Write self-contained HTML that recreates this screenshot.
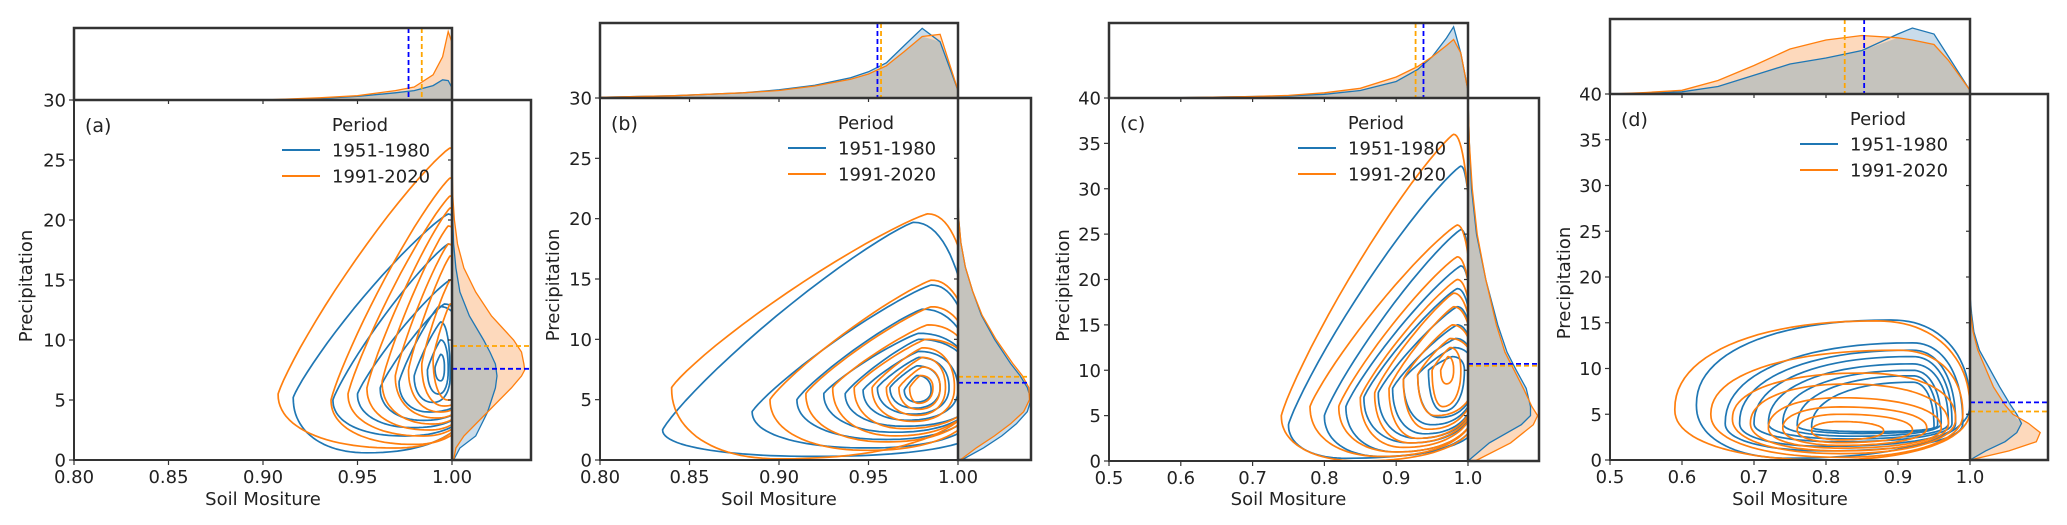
<!DOCTYPE html>
<html><head><meta charset="utf-8"><title>Joint KDE plots</title>
<style>
html,body{margin:0;padding:0;background:#fff;}
svg{display:block;font-family:"DejaVu Sans","Liberation Sans",sans-serif;}
</style></head>
<body>
<svg id="fig" width="2067" height="525" viewBox="0 0 2067 525" xmlns="http://www.w3.org/2000/svg"></svg>
<script>
// ---------- DATA ----------
const seriesNames = ["1951-1980","1991-2020"];
const panelLabels = ["(a)","(b)","(c)","(d)"];
const xTicksAB = [0.80,0.85,0.90,0.95,1.00];
const xTickLabelsAB = ["0.80","0.85","0.90","0.95","1.00"];
const xTicksCD = [0.5,0.6,0.7,0.8,0.9,1.0];
const xTickLabelsCD = ["0.5","0.6","0.7","0.8","0.9","1.0"];
const yTicksAB = [0,5,10,15,20,25,30];
const yTicksCD = [0,5,10,15,20,25,30,35,40];

// contour levels: [xl, xr, yb, yt, ym, xt, xb]
const contBlueA = [[.916,1.01,.6,20.5,5.2,.998,.955],[.937,1.01,2,18,5,.998,.975],[.95,1.01,2.7,15,5.5,.999,.98],[.962,1.01,3.3,13,6,.996,.985],[.972,1.01,4,12.8,6.5,.993,.988],[.98,.999,4.8,11.5,7,.994,.99],[.987,.998,5.5,10,7.5,.994,.993],[.991,.996,6.6,8.8,7.7,.994,.994]];
const contOrangeA = [[.908,1.01,1,26,5.5,.999,.97],[.936,1.01,1.3,23.5,5,.999,.98],[.945,1.01,2,22,5.5,.999,.985],[.955,1.01,2.5,21,6,.999,.988],[.963,1.01,3,19.5,6.5,.998,.99],[.97,1.01,3.5,18,7,.998,.992],[.977,1.01,4,17,7.5,.999,.994],[.984,1.01,4.5,15,8,.999,.996],[.99,1.01,5,13,8.5,.999,.998]];
const contBlueB = [[.835,1.01,.3,19.7,2.5,.975,.92],[.885,1.01,1,14.5,4,.985,.95],[.91,1.01,1.7,12.5,5,.98,.96],[.925,1.01,2.3,10.5,5.5,.978,.965],[.937,1.01,2.8,10,5.5,.978,.97],[.947,1.0,3.3,9,5.8,.978,.972],[.955,.995,3.8,8.5,6,.978,.975],[.962,.99,4.3,7.8,6,.977,.976],[.97,.985,4.8,7,5.8,.977,.977]];
const contOrangeB = [[.84,1.01,.1,20.4,6,.983,.9],[.895,1.01,.8,14.9,5,.985,.95],[.915,1.01,1.5,12.7,5.5,.985,.96],[.93,1.01,2,11.2,6,.983,.965],[.942,1.01,2.6,10,6,.982,.97],[.952,.998,3.2,9.3,6,.98,.975],[.96,.993,3.7,8.5,6,.98,.977],[.967,.99,4.2,7.7,6,.98,.978],[.973,.986,4.7,7,6,.979,.978]];
const contBlueC = [[.75,1.01,.3,32.5,4,.99,.83],[.80,1.01,.5,25.5,5,.99,.88],[.83,1.01,1,21.5,6,.99,.9],[.855,1.01,2,19,7,.985,.92],[.875,1.01,2.5,17,7.5,.985,.93],[.895,1.01,3,15,8,.985,.94],[.91,1.01,4,13.5,9,.983,.95],[.93,1.01,4.8,12.5,9.5,.98,.96],[.945,.995,5.5,11.5,10,.978,.965]];
const contOrangeC = [[.74,1.01,0,36,5,.98,.85],[.78,1.01,.5,26,6,.985,.88],[.82,1.01,1,22.5,6,.985,.9],[.85,1.01,1.5,20,7,.985,.91],[.87,1.01,2,18.5,7.5,.98,.92],[.89,1.01,2.5,17,8,.98,.93],[.91,1.01,3.5,15,9,.978,.945],[.93,1.01,5,13.5,9.5,.975,.955],[.95,.99,6,12.5,10,.975,.965],[.962,.98,8.5,11.5,10,.972,.97]];
const contBlueD = [[.62,1.0,.2,15.3,6,.89,.75],[.66,.99,1,12.8,4,.92,.8],[.68,.98,1.5,12,4,.92,.8],[.70,.975,2,11.3,4,.92,.82],[.72,.97,2.3,10.5,4,.92,.83],[.74,.96,2.6,9.8,4,.92,.84],[.76,.955,2.9,9.2,3.8,.92,.85],[.78,.95,3.1,8.5,3.6,.92,.86]];
const contOrangeD = [[.59,1.0,0,15.2,5.5,.87,.8],[.64,.99,.3,12,5,.9,.82],[.67,.98,.7,9.5,4.5,.85,.82],[.695,.97,1,8.3,4,.83,.82],[.72,.96,1.3,6.8,3.5,.82,.82],[.74,.94,1.6,5.8,3.5,.82,.82],[.76,.92,1.9,5,3.3,.82,.82],[.78,.88,2.2,4.2,3.2,.82,.82]];

// top marginal densities (fraction of marginal height)
const topGridA = [.80,.90,.93,.95,.97,.98,.99,.995,.998,1.0];
const topBlueA = [0,0,.02,.05,.1,.13,.2,.28,.27,.17];
const topOrangeA = [0,0,.03,.06,.13,.18,.35,.6,.95,.8];
const topGridB = [.80,.84,.88,.90,.92,.94,.95,.96,.97,.98,.99,1.0];
const topBlueB = [.01,.03,.07,.11,.17,.27,.35,.47,.70,.93,.75,.1];
const topOrangeB = [.01,.03,.07,.10,.16,.25,.32,.43,.62,.82,.85,.1];
const topGridC = [.5,.6,.7,.75,.8,.85,.9,.93,.95,.97,.98,.99,1.0];
const topBlueC = [0,.005,.02,.03,.05,.1,.22,.38,.55,.8,.95,.6,.1];
const topOrangeC = [0,.005,.02,.035,.07,.13,.28,.42,.55,.7,.78,.6,.1];
const topGridD = [.5,.55,.6,.65,.7,.75,.8,.85,.9,.92,.95,.97,1.0];
const topBlueD = [0,.01,.03,.1,.25,.4,.48,.58,.8,.88,.8,.5,.05];
const topOrangeD = [0,.02,.05,.18,.38,.6,.72,.78,.75,.72,.66,.45,.05];

// right marginal densities (fraction of marginal width)
const rightGridA = [0,1,2,4,6,7,7.5,8,9,10,12,14,16,18,20,22,25];
const rightBlueA = [.02,.1,.3,.45,.55,.57,.56,.55,.48,.4,.22,.1,.05,.02,.01,0,0];
const rightOrangeA = [.02,.05,.15,.45,.75,.88,.92,.91,.88,.78,.5,.3,.15,.07,.03,.01,0];
const rightGridB = [0,1,2,3,4,5,6,7,8,10,12,14,16,18,20,22];
const rightBlueB = [.05,.35,.6,.8,.95,1.0,.95,.85,.72,.5,.32,.2,.1,.04,.01,0];
const rightOrangeB = [.03,.25,.5,.72,.9,.98,.97,.88,.75,.52,.33,.2,.1,.04,.01,0];
const rightGridC = [0,2,4,5,6,8,10,12,15,20,25,30,35,40];
const rightBlueC = [0,.3,.75,.88,.88,.82,.68,.55,.42,.25,.12,.05,.02,0];
const rightOrangeC = [.1,.6,.92,.98,.9,.78,.65,.52,.4,.25,.13,.06,.02,0];
const rightGridD = [0,1,2,3,4,5,6,8,10,12,14,16,18];
const rightBlueD = [0,.2,.45,.6,.66,.6,.52,.38,.25,.12,.05,.02,0];
const rightOrangeD = [0,.5,.85,.9,.75,.55,.45,.3,.2,.1,.04,.01,0];

// means
const meanXBlue = [.977,.955,.938,.853];
const meanXOrange = [.984,.957,.927,.826];
const meanYBlue = [7.6,6.4,10.7,6.3];
const meanYOrange = [9.5,6.9,10.5,5.3];

// ---------- LAYOUT ----------
const layout = [
  {L:74,R:452,T:100,B:460,tT:28,rR:531,xd:[.8,1],yd:[0,30],xt:xTicksAB,xl:xTickLabelsAB,yt:yTicksAB,ylx:26,nUL:1.15},
  {L:600,R:958,T:98,B:460,tT:23,rR:1031,xd:[.8,1],yd:[0,30],xt:xTicksAB,xl:xTickLabelsAB,yt:yTicksAB,ylx:553,nUL:1.15},
  {L:1109,R:1468,T:98,B:461,tT:23,rR:1539,xd:[.5,1],yd:[0,40],xt:xTicksCD,xl:xTickLabelsCD,yt:yTicksCD,ylx:1063,nUL:1.15},
  {L:1610,R:1970,T:94,B:460,tT:19,rR:2048,xd:[.5,1],yd:[0,40],xt:xTicksCD,xl:xTickLabelsCD,yt:yTicksCD,ylx:1564,nUL:2.2}
];
const contB = [contBlueA,contBlueB,contBlueC,contBlueD];
const contO = [contOrangeA,contOrangeB,contOrangeC,contOrangeD];
const tG = [topGridA,topGridB,topGridC,topGridD];
const tB = [topBlueA,topBlueB,topBlueC,topBlueD];
const tO = [topOrangeA,topOrangeB,topOrangeC,topOrangeD];
const rG = [rightGridA,rightGridB,rightGridC,rightGridD];
const rB = [rightBlueA,rightBlueB,rightBlueC,rightBlueD];
const rO = [rightOrangeA,rightOrangeB,rightOrangeC,rightOrangeD];

const BLUE="#1f77b4", ORANGE="#ff7f0e";
const NS="http://www.w3.org/2000/svg";
const svg=document.getElementById('fig');
function mk(tag,attrs,parent){const e=document.createElementNS(NS,tag);for(const k in attrs)e.setAttribute(k,attrs[k]);(parent||svg).appendChild(e);return e;}
function txt(s,attrs,parent){const e=mk('text',attrs,parent);e.textContent=s;return e;}

function shapePts(lv,sx,sy,nUL){
  const [xl,xr,yb,yt,ym,xt,xb]=lv;const n=2.2;const pts=[];const N=24;
  const pw=(v,nn)=>Math.pow(Math.abs(v),2/nn);
  for(let i=0;i<=N;i++){const t=i/N*Math.PI/2;pts.push([xt+(xr-xt)*pw(Math.cos(t),n),ym+(yt-ym)*pw(Math.sin(t),n)]);}
  for(let i=1;i<=N;i++){const t=i/N*Math.PI/2;pts.push([xt-(xt-xl)*pw(Math.sin(t),nUL),ym+(yt-ym)*pw(Math.cos(t),nUL)]);}
  for(let i=1;i<=N;i++){const t=i/N*Math.PI/2;pts.push([xb-(xb-xl)*pw(Math.cos(t),n),ym-(ym-yb)*pw(Math.sin(t),n)]);}
  for(let i=1;i<N;i++){const t=i/N*Math.PI/2;pts.push([xb+(xr-xb)*pw(Math.sin(t),n),ym-(ym-yb)*pw(Math.cos(t),n)]);}
  return pts.map(p=>sx(p[0]).toFixed(1)+','+sy(p[1]).toFixed(1)).join(' ');
}

layout.forEach((P,pi)=>{
  const g=mk('g',{});
  
  
  const sx=v=>P.L+(v-P.xd[0])/(P.xd[1]-P.xd[0])*(P.R-P.L);
  const sy=v=>P.B-(v-P.yd[0])/(P.yd[1]-P.yd[0])*(P.B-P.T);
  const defs=mk('defs',{},g);
  const cp=mk('clipPath',{id:'clip'+pi},defs);
  mk('rect',{x:P.L,y:P.T,width:P.R-P.L,height:P.B-P.T},cp);

  const cg=mk('g',{'clip-path':'url(#clip'+pi+')'},g);
  
  
  [[contB[pi],BLUE,'blue'],[contO[pi],ORANGE,'orange']].forEach(([levels,col,nm])=>{
    levels.forEach((lv,li)=>{
      const pl=mk('polygon',{points:shapePts(lv,sx,sy,P.nUL),fill:'none',stroke:col,'stroke-width':1.7,'stroke-linejoin':'round'},cg);
      
      
    });
  });

  const H=P.T-P.tT;
  const grid=tG[pi], bv=tB[pi], ov=tO[pi];
  const ty=d=>P.T-d*H;
  const area=(vals)=>{let s='M'+sx(grid[0])+','+P.T;grid.forEach((x,i)=>{s+=' L'+sx(x).toFixed(1)+','+ty(vals[i]).toFixed(1);});return s+' L'+sx(grid[grid.length-1])+','+P.T+' Z';};
  const line=(vals)=>grid.map((x,i)=>(i?'L':'M')+sx(x).toFixed(1)+','+ty(vals[i]).toFixed(1)).join(' ');
  const mins=bv.map((v,i)=>Math.min(v,ov[i]));
  const tf1=mk('path',{d:area(bv),fill:'#c9dceb'},g);
  
  
  const tf2=mk('path',{d:area(ov),fill:'#fdd9bc'},g);
  
  
  const tf3=mk('path',{d:area(mins),fill:'#c5c3bd'},g);
  
  
  const tl1=mk('path',{d:line(bv),fill:'none',stroke:BLUE,'stroke-width':1.3},g);
  
  
  const tl2=mk('path',{d:line(ov),fill:'none',stroke:ORANGE,'stroke-width':1.3},g);
  
  
  const mv1=mk('line',{x1:sx(meanXOrange[pi]),x2:sx(meanXOrange[pi]),y1:P.tT,y2:P.T,stroke:'#ffa500','stroke-width':1.8,'stroke-dasharray':'5,3'},g);
  
  
  const mv2=mk('line',{x1:sx(meanXBlue[pi]),x2:sx(meanXBlue[pi]),y1:P.tT,y2:P.T,stroke:'#0000ff','stroke-width':1.8,'stroke-dasharray':'5,3'},g);
  
  
  const tbox=mk('rect',{x:P.L,y:P.tT,width:P.R-P.L,height:H,fill:'none',stroke:'#333','stroke-width':2.5},g);
  
  

  const W=P.rR-P.R;
  const rg=rG[pi], rbv=rB[pi], rov=rO[pi];
  const rx=d=>P.R+d*W;
  const rarea=(vals)=>{let s='M'+P.R+','+sy(rg[0]);rg.forEach((y,i)=>{s+=' L'+rx(vals[i]).toFixed(1)+','+sy(y).toFixed(1);});return s+' L'+P.R+','+sy(rg[rg.length-1]).toFixed(1)+' Z';};
  const rline=(vals)=>rg.map((y,i)=>(i?'L':'M')+rx(vals[i]).toFixed(1)+','+sy(y).toFixed(1)).join(' ');
  const rmins=rbv.map((v,i)=>Math.min(v,rov[i]));
  const rf1=mk('path',{d:rarea(rbv),fill:'#c9dceb'},g);
  
  
  const rf2=mk('path',{d:rarea(rov),fill:'#fdd9bc'},g);
  
  
  const rf3=mk('path',{d:rarea(rmins),fill:'#c5c3bd'},g);
  
  
  const rl1=mk('path',{d:rline(rbv),fill:'none',stroke:BLUE,'stroke-width':1.3},g);
  
  
  const rl2=mk('path',{d:rline(rov),fill:'none',stroke:ORANGE,'stroke-width':1.3},g);
  
  
  const mh1=mk('line',{x1:P.R,x2:P.rR,y1:sy(meanYOrange[pi]),y2:sy(meanYOrange[pi]),stroke:'#ffa500','stroke-width':1.8,'stroke-dasharray':'5,3'},g);
  
  
  const mh2=mk('line',{x1:P.R,x2:P.rR,y1:sy(meanYBlue[pi]),y2:sy(meanYBlue[pi]),stroke:'#0000ff','stroke-width':1.8,'stroke-dasharray':'5,3'},g);
  
  
  const rbox=mk('rect',{x:P.R,y:P.T,width:W,height:P.B-P.T,fill:'none',stroke:'#333','stroke-width':2.5},g);
  
  

  const mbox=mk('rect',{x:P.L,y:P.T,width:P.R-P.L,height:P.B-P.T,fill:'none',stroke:'#333','stroke-width':2},g);
  
  

  P.xt.forEach((v,i)=>{
    const tk=mk('line',{x1:sx(v),x2:sx(v),y1:P.B,y2:P.B+5,stroke:'#333','stroke-width':1.2},g);
    
    
    const tk2=mk('line',{x1:sx(v),x2:sx(v),y1:P.T,y2:P.T+4,stroke:'#333','stroke-width':1.2},g);
    
    
    const tl=txt(P.xl[i],{x:sx(v),y:P.B+23,'font-size':18,'text-anchor':'middle',fill:'#222'},g);
    
    
  });
  P.yt.forEach(v=>{
    const tk=mk('line',{x1:P.L-5,x2:P.L,y1:sy(v),y2:sy(v),stroke:'#333','stroke-width':1.2},g);
    
    
    const tk2=mk('line',{x1:P.R-4,x2:P.R,y1:sy(v),y2:sy(v),stroke:'#333','stroke-width':1.2},g);
    
    
    const tl=txt(String(v),{x:P.L-8,y:sy(v)+6.5,'font-size':18,'text-anchor':'end',fill:'#222'},g);
    
    
  });
  const xlab=txt('Soil Mositure',{x:(P.L+P.R)/2,y:505,'font-size':18,'text-anchor':'middle',fill:'#222'},g);
  
  
  const yc=(P.T+P.B)/2;
  const ylab=txt('Precipitation',{x:P.ylx,y:yc,'font-size':18,'text-anchor':'middle',fill:'#222',transform:'rotate(-90 '+(P.ylx+6)+' '+yc+')'},g);
  
  
  const pl=txt(panelLabels[pi],{x:P.L+11,y:P.T+32,'font-size':19,fill:'#222'},g);
  
  

  const lg=mk('g',{},g);
  
  
  const lt=txt('Period',{x:P.R-92,y:P.T+31,'font-size':18,'text-anchor':'middle',fill:'#222'},lg);
  
  
  seriesNames.forEach((s,si)=>{
    const yy=P.T+50+si*26;
    const ln=mk('line',{x1:P.R-170,x2:P.R-132,y1:yy,y2:yy,stroke:si?ORANGE:BLUE,'stroke-width':2},lg);
    
    
    const t=txt(s,{x:P.R-120,y:yy+6.5,'font-size':18,fill:'#222'},lg);
    
    
  });
});
</script>
</body></html>
